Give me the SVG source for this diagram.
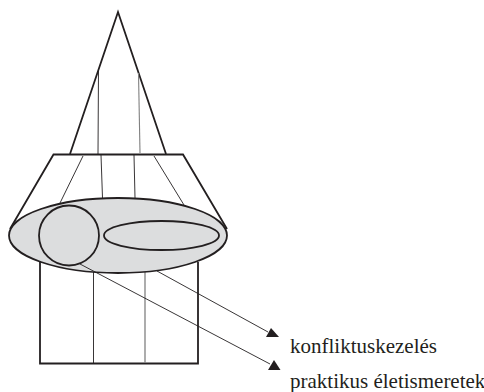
<svg xmlns="http://www.w3.org/2000/svg" width="484" height="392" viewBox="0 0 484 392">
<style>
.t{fill:none;stroke:#231f20;stroke-width:1.8}
.m{fill:none;stroke:#231f20;stroke-width:1.8}
.l{fill:none;stroke:#231f20;stroke-width:.9}
.g{fill:#dcddde;stroke:#231f20;stroke-width:1.8}
.a{fill:#231f20;stroke:none}
text{font-family:"Liberation Serif","Times New Roman",serif;font-size:21px;fill:#231f20}
</style>
<g id="base">
<path class="t" d="M40 262V363.500H198V262"/>
<path class="l" d="M93.500 270V363"/>
<path d="M145 270V363" fill="none" stroke="#808080" stroke-width="1.300"/>
</g>
<g id="cone">
<path class="t" d="M70 154L118 12L166 154"/>
<path class="l" d="M98.500 69L98 154"/>
<path d="M138.500 73L140 153" fill="none" stroke="#808080" stroke-width="1.100"/>
</g>
<g id="collar">
<path class="m" d="M10 229L53.500 154.500H183L227 229"/>
<path class="l" d="M83 156L60 203M101 155L102.500 198M134 155L135 198M154 156L184 205"/>
</g>
<g id="disc"><ellipse class="g" cx="118" cy="235.500" rx="109" ry="37.500"/></g>
<g id="circle"><circle class="t" cx="69" cy="235.500" r="30"/></g>
<g id="inner-ellipse"><ellipse class="t" cx="161.500" cy="235.500" rx="57.500" ry="14.500"/></g>
<g id="connectors">
<path class="l" d="M157 271L268 332"/>
<path class="l" d="M80 264L270 364"/>
<path class="a" d="M271 328L279 337H266Z"/>
<path class="a" d="M274 360L280.500 370H268Z"/>
</g>
<g id="label-1"><text x="290" y="352.500">konfliktuskezelés</text></g>
<g id="label-2"><text x="290" y="388">praktikus életismeretek</text></g>
</svg>
